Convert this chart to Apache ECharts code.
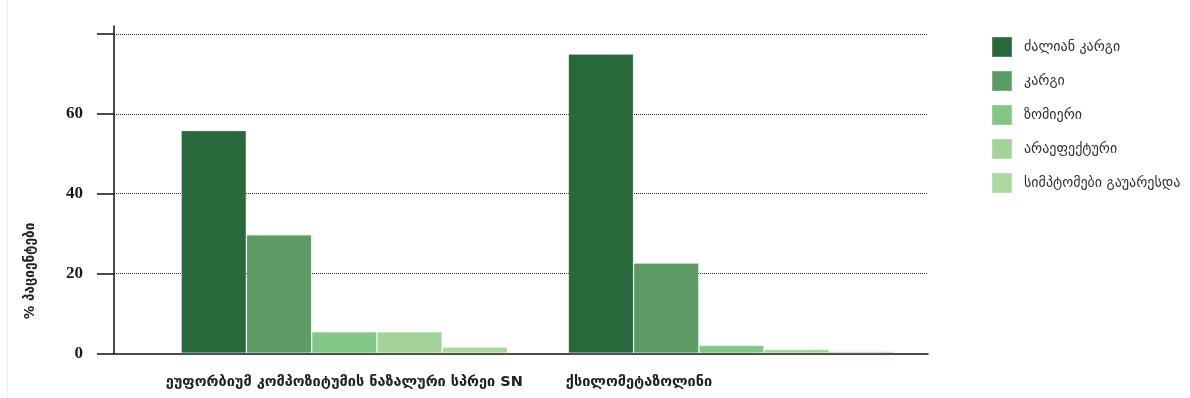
<!DOCTYPE html>
<html>
<head>
<meta charset="utf-8">
<script src="https://cdn.jsdelivr.net/npm/echarts@6/dist/echarts.min.js"></script>
<style>
html,body{margin:0;padding:0;background:#fff;}
#c{width:1190px;height:398px;}
</style>
</head>
<body>
<div id="c"></div>
<script>
// ---- data ----
const categories = ['ეუფორბიუმ კომპოზიტუმის ნაზალური სპრეი SN', 'ქსილომეტაზოლინი'];
const seriesNames = ['ძალიან კარგი', 'კარგი', 'ზომიერი', 'არაეფექტური', 'სიმპტომები გაუარესდა'];
const veryGood   = [55.8, 75.0];
const good       = [29.7, 22.6];
const moderate   = [5.4, 2.0];
const ineffective= [5.4, 1.0];
const worsened   = [1.6, 0.5];
const yTicks = [0, 20, 40, 60, 80];
const yLabels = [0, 20, 40, 60];
const yTitle = '% პაციენტები';

const colors = ['#28683A', '#5C9B64', '#82C688', '#A3D39B', '#AED7A0'];
const seriesData = [veryGood, good, moderate, ineffective, worsened];

const chart = echarts.init(document.getElementById('c'));
const option = {
  animation: false,
  backgroundColor: '#fff',
  color: colors,
  grid: [
    {left: 114, right: 262, top: 26, bottom: 44.7},
    {left: 150.7, right: 264.9, top: 26, bottom: 44.7}
  ],
  legend: {
    orient: 'vertical',
    left: 991, top: 36, padding: 0,
    itemWidth: 20, itemHeight: 20, itemGap: 12,
    icon: 'rect',
    data: seriesNames,
    textStyle: {fontFamily: 'DejaVu Sans', fontSize: 14, color: '#333', padding: [0, 0, 0, 7]}
  },
  xAxis: [
    {
      gridIndex: 0, type: 'value', min: 0, max: 1,
      axisLine: {show: true, lineStyle: {color: '#111', width: 1.5}},
      axisTick: {show: false}, axisLabel: {show: false}, splitLine: {show: false}
    },
    {
      gridIndex: 1, type: 'category',
      data: [
        {value: categories[0]},
        {value: categories[1], textStyle: {padding: [0, 185, 0, 0]}}
      ],
      axisLine: {show: false}, axisTick: {show: false}, splitLine: {show: false},
      axisLabel: {
        interval: 0, margin: 21,
        fontFamily: 'DejaVu Sans', fontWeight: 'bold', fontSize: 14.5, color: '#222'
      }
    }
  ],
  yAxis: [
    {
      gridIndex: 0, type: 'value', min: 0, max: 82, interval: 20,
      axisLine: {show: true, lineStyle: {color: '#111', width: 1.5}},
      axisTick: {show: true, length: 17, customValues: yTicks, lineStyle: {color: '#111', width: 1.5}},
      axisLabel: {
        customValues: yLabels, margin: 31,
        fontFamily: 'Liberation Serif', fontWeight: 'bold', fontSize: 17, color: '#1a1a1a'
      },
      splitLine: {show: true, showMaxLine: true, showMinLine: false,
        lineStyle: {color: '#333', type: [1, 1], width: 1}}
    },
    {
      gridIndex: 1, type: 'value', min: 0, max: 82, show: false
    }
  ],
  graphic: [
    {type: 'line', shape: {x1: 7.5, y1: 0, x2: 7.5, y2: 398}, style: {stroke: '#eeeeee', lineWidth: 1}, silent: true},
    {
      type: 'text', x: 30, y: 271, rotation: Math.PI / 2,
      style: {text: yTitle, textAlign: 'center', textVerticalAlign: 'middle',
        font: 'bold 13.5px "DejaVu Sans"', fill: '#222'}
    }
  ],
  series: seriesNames.map((n, i) => ({
    name: n, type: 'bar', xAxisIndex: 1, yAxisIndex: 1,
    data: seriesData[i],
    barGap: '0%', barCategoryGap: '15.7%',
    itemStyle: {color: colors[i], borderColor: 'rgba(255,255,255,0.2)', borderWidth: 1}
  }))
};
chart.setOption(option);
</script>
</body>
</html>
